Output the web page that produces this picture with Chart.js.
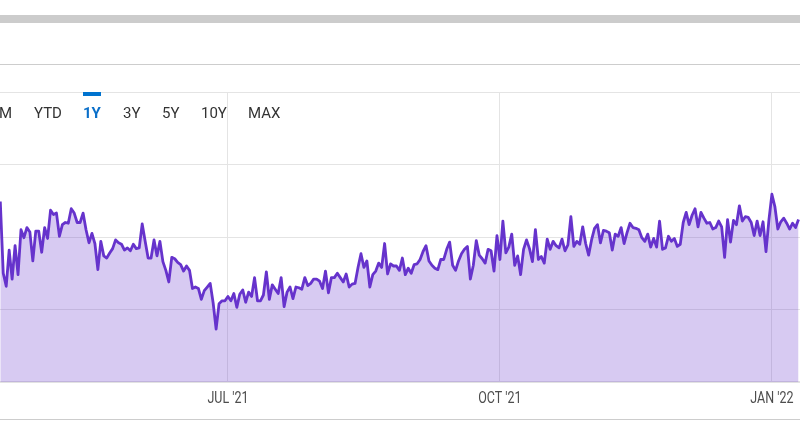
<!DOCTYPE html>
<html>
<head>
<meta charset="utf-8">
<script src="https://cdn.jsdelivr.net/npm/chart.js@4/dist/chart.umd.min.js"></script>
<style>
  body { margin: 0; width: 800px; height: 436px; position: relative; overflow: hidden; background: #fff; font-family: Roboto, sans-serif; }
  .rule { position: absolute; left: 0; width: 800px; }
  #chart { position: absolute; left: 0; top: 0; }
  .range { position: absolute; top: 105px; line-height: 16px; font-size: 15px; color: #333; white-space: nowrap; z-index: 2; }
  .range.active { color: #0a6fc9; font-weight: bold; }
  #indicator { position: absolute; left: 83px; top: 92px; width: 18px; height: 4px; background: #0073cf; z-index: 2; }
</style>
</head>
<body>
<div class="rule" style="top:15px;height:8px;background:#cccccc"></div>
<div class="rule" style="top:64px;height:1px;background:#cdcdcd"></div>
<div class="rule" style="top:419px;height:1px;background:#cdcdcd"></div>
<canvas id="chart" width="800" height="436"></canvas>
<div id="indicator"></div>
<div class="range" style="right:788px">6M</div>
<div class="range" style="left:34px">YTD</div>
<div class="range active" style="left:83px">1Y</div>
<div class="range" style="left:123px">3Y</div>
<div class="range" style="left:162px">5Y</div>
<div class="range" style="left:201px">10Y</div>
<div class="range" style="left:248px">MAX</div>
<script>
const DAY = 86400000;
const firstDate = Date.UTC(2021, 3, 15);

// daily closes
const prices = [
    84.9, 75.0, 73.2, 78.2, 74.2, 78.8, 74.8, 81.0, 79.9, 81.3,
    80.7, 76.7, 80.8, 80.8, 77.9, 81.3, 79.8, 83.7, 83.1, 83.3,
    80.1, 81.7, 82.0, 81.9, 83.9, 83.3, 82.0, 82.0, 83.3, 81.0,
    79.2, 80.5, 79.1, 75.5, 79.4, 77.4, 77.1, 77.8, 78.4, 79.6,
    79.2, 79.0, 78.2, 78.5, 78.1, 79.0,
    78.4, 78.5, 81.8, 79.4, 77.1, 77.1, 79.6, 77.4, 79.4, 76.6,
    75.4, 73.8, 77.2, 77.0, 76.5, 76.2, 75.3, 76.0, 75.4, 72.9,
    73.1, 72.9, 71.4, 72.6, 73.1, 73.6, 70.9, 67.3, 70.8, 71.2,
    71.2, 71.8, 71.2, 72.2, 70.3, 72.1, 72.7, 71.0, 72.4, 71.8,
    74.4, 71.2, 71.2, 72.0, 75.2,
    71.4, 73.4, 72.8, 72.2, 74.4, 70.4, 72.4, 73.1, 71.5, 73.1,
    73.0, 72.8, 74.4, 73.3, 73.6, 74.2, 74.2, 73.9, 72.9, 75.3,
    72.3, 74.4, 74.4, 75.0, 74.4, 73.8, 74.9, 73.1, 73.5, 73.6,
    75.8, 77.7, 75.8, 76.7, 73.1, 74.8, 75.3, 76.4, 75.8, 79.1,
    74.9, 76.3, 76.0, 76.0, 75.4,
    77.1, 74.8, 75.7, 75.0, 76.2, 76.3, 76.9, 78.0, 78.8, 76.7,
    76.1, 75.7, 75.5, 76.9, 76.9, 78.3, 79.3, 76.1, 75.4, 76.7,
    77.7, 78.3, 78.7, 74.2, 76.1, 79.5, 77.5, 77.0, 76.4, 78.3,
    78.1, 75.3, 80.2, 76.9, 82.2, 77.8, 78.6, 80.4, 76.1, 77.4,
    74.8, 78.3, 79.6, 78.4, 76.6,
    81.0, 76.9, 77.3, 76.4, 79.7, 78.3, 79.4, 78.8, 78.5, 79.7,
    78.1, 78.9, 82.8, 78.7, 79.4, 79.0, 81.4, 79.1, 77.5, 79.6,
    81.2, 81.7, 79.2, 80.9, 80.8, 80.6, 78.2, 80.4, 80.1, 81.3,
    79.1, 80.6, 81.9, 81.3, 81.2, 81.0, 79.9, 79.4, 80.4, 78.6,
    79.8, 78.6, 82.2, 78.3, 78.5,
    80.1, 79.4, 79.8, 78.7, 79.0, 82.0, 83.4, 81.7, 83.0, 83.9,
    81.4, 83.4, 82.6, 81.9, 82.0, 81.1, 81.3, 82.2, 81.4, 77.2,
    82.4, 79.3, 82.3, 81.7, 84.3, 82.2, 82.8, 82.7, 82.0, 80.2,
    82.2, 80.2, 82.1, 78.0, 82.4, 85.9, 84.2, 81.1, 82.1, 82.6,
    81.9, 81.1, 81.9, 81.3, 82.4
];

const tickDates = [Date.UTC(2021, 6, 1), Date.UTC(2021, 9, 1), Date.UTC(2022, 0, 1)];
const tickLabels = ["JUL '21", "OCT '21", "JAN '22"];

const points = prices.map((p, i) => ({ x: firstDate + i * DAY, y: p }));

// condensed date labels under the plot
const dateLabels = {
    id: 'dateLabels',
    afterDraw(chart) {
        const ctx = chart.ctx;
        const xs = chart.scales.x;
        ctx.save();
        ctx.font = '16px Roboto';
        ctx.fillStyle = '#4d4d4d';
        ctx.textAlign = 'center';
        ctx.textBaseline = 'middle';
        tickDates.forEach((d, i) => {
            ctx.save();
            ctx.translate(xs.getPixelForValue(d), 399);
            ctx.scale(0.78, 1);
            ctx.fillText(tickLabels[i], 0, 0);
            ctx.restore();
        });
        ctx.restore();
    }
};

const ctx = document.getElementById('chart').getContext('2d');
new Chart(ctx, {
    type: 'line',
    data: {
        datasets: [{
            data: points,
            borderColor: '#6633cc',
            borderWidth: 2.8,
            backgroundColor: 'rgba(102, 51, 204, 0.26)',
            fill: 'start',
            pointRadius: 0,
            tension: 0,
            borderJoinStyle: 'round'
        }]
    },
    options: {
        responsive: false,
        animation: false,
        layout: { padding: { top: 92, bottom: 54, left: 0, right: 0 } },
        plugins: { legend: { display: false }, tooltip: { enabled: false } },
        scales: {
            x: {
                type: 'linear',
                min: tickDates[0] - 77.1 * DAY,
                max: tickDates[0] + 193.5 * DAY,
                afterBuildTicks: scale => { scale.ticks = tickDates.map(v => ({ value: v })); },
                afterFit: scale => { scale.height = 0; },
                ticks: { display: false },
                grid: { color: '#e4e4e4', lineWidth: 1, drawTicks: false },
                border: { display: true, color: '#e2e2e2', width: 2 }
            },
            y: {
                min: 60,
                max: 100,
                afterFit: scale => { scale.width = 0; },
                ticks: { display: false, stepSize: 10 },
                grid: { color: '#e4e4e4', lineWidth: 1, drawTicks: false },
                border: { display: false }
            }
        }
    },
    plugins: [dateLabels]
});
</script>
</body>
</html>
